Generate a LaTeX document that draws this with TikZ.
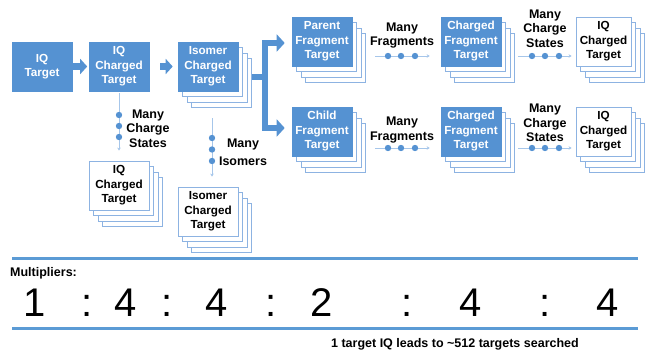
\documentclass[tikz,border=0pt]{standalone}
\usepackage{fontspec}
\setmainfont{Liberation Sans}
\usetikzlibrary{arrows.meta}
\definecolor{boxblue}{HTML}{5592D2}
\definecolor{layerblue}{HTML}{8DB3E2}
\definecolor{ruleblue}{HTML}{5B9BD5}
\definecolor{lineblue}{HTML}{A6C6EA}
\newcommand\stk[6]{% name, x, y, width, front style, text
  \foreach \k in {3,2,1}{\node[layer, minimum width=#4pt] (#1-\k) at ({#2+#4/2+4.5*\k},{#3+24.5+5.5*\k}) {};}
  \node[#5, minimum width=#4pt] (#1) at ({#2+#4/2},{#3+24.5}) {#6};}
\begin{document}
\begin{tikzpicture}[x=1pt,y=-1pt,
  box/.style={fill=boxblue, draw=boxblue, text=white, font=\bfseries\fontsize{11.7}{14.5}\selectfont, align=center, minimum height=49pt, inner sep=0pt, line width=0.6pt},
  wbox/.style={fill=white, draw=layerblue, text=black, font=\bfseries\fontsize{11.7}{14.5}\selectfont, align=center, minimum height=49pt, inner sep=0pt, line width=0.8pt},
  layer/.style={fill=white, draw=layerblue, minimum height=49pt, inner sep=0pt, line width=0.8pt},
  lbl/.style={font=\bfseries\fontsize{12.5}{14.5}\selectfont, align=center, inner sep=0pt},
  blockarrow/.style={draw=boxblue, line width=7pt, -{Triangle[width=15pt,length=7pt]}},
  branch/.style={draw=boxblue, line width=6pt, line join=miter, -{Triangle[width=17pt,length=8pt]}},
  dotline/.style={draw=lineblue, line width=0.9pt, -{Stealth[length=3pt,width=3.5pt]}},
  dotc/.style={fill=boxblue},
  rulel/.style={draw=ruleblue, line width=3pt},
  big/.style={font=\fontsize{40}{40}\selectfont, anchor=base, inner sep=0pt},
]
\useasboundingbox (0,0) rectangle (646,353);

% single boxes
\node[box, minimum width=60pt] (iqt) at (42,66.5) {IQ\\Target};
\node[box, minimum width=60pt] (ic) at (119,66.5) {IQ\\Charged\\Target};

% stacks
\stk{iso}{178}{42}{60}{box}{Isomer\\Charged\\Target}
\stk{icw}{89}{161}{60}{wbox}{IQ\\Charged\\Target}
\stk{isow}{178}{187}{60}{wbox}{Isomer\\Charged\\Target}
\stk{par}{292}{17}{60}{box}{Parent\\Fragment\\Target}
\stk{chi}{292}{107}{60}{box}{Child\\Fragment\\Target}
\stk{cft}{441}{17}{60}{box}{Charged\\Fragment\\Target}
\stk{cfb}{441}{107}{60}{box}{Charged\\Fragment\\Target}
\stk{iqa}{576}{17}{55}{wbox}{IQ\\Charged\\Target}
\stk{iqb}{576}{107}{55}{wbox}{IQ\\Charged\\Target}

% block arrows
\draw[blockarrow, shorten <=1pt, shorten >=1.5pt] (iqt.east) -- (ic.west);
\draw[blockarrow, shorten <=11pt, shorten >=5pt] (ic.east) -- (iso.west);

% branch
\coordinate (br) at (265,77);
\coordinate (bt) at (265,43);
\coordinate (bb) at (265,128);
\draw[draw=boxblue, line width=6pt] (iso-3.east |- br) -- (br);
\draw[branch, shorten >=7pt] (br) -- (bt) -- (par.west |- bt);
\draw[branch, shorten >=7pt] (br) -- (bb) -- (chi.west |- bb);

% vertical dotted connectors
\draw[dotline, shorten <=2pt, shorten >=10pt] (ic.south) -- (icw.north);
\foreach \yy in {115,126,137} \fill[dotc] (119,\yy) circle (3.2);
\node[lbl] (l1) at (148,128.5) {Many\\Charge\\States};

\draw[dotline, shorten <=27pt, shorten >=10pt] ([xshift=4pt]iso.south) -- ([xshift=4pt]isow.north);
\foreach \yy in {138,149.5,161} \fill[dotc] (212,\yy) circle (3.2);
\node[lbl, font=\bfseries\fontsize{12.5}{17.5}\selectfont] (l2) at (243,152.5) {Many\\Isomers};

% horizontal dotted connectors (top row)
\draw[dotline, shorten <=23pt, shorten >=11pt] ([yshift=-14.5pt]par.east) -- ([yshift=-14.5pt]cft.west);
\foreach \xx in {388,401,415} \fill[dotc] (\xx,56) circle (3.2);
\node[lbl] (l3) at (402,35.5) {Many\\Fragments};
\draw[dotline, shorten <=17pt, shorten >=4pt] ([yshift=-14.5pt]cft.east) -- ([yshift=-14.5pt]iqa.west);
\foreach \xx in {532,545,559} \fill[dotc] (\xx,56) circle (3.2);
\node[lbl] (l4) at (545,28.5) {Many\\Charge\\States};

% bottom row
\draw[dotline, shorten <=23pt, shorten >=11pt] ([yshift=-16.5pt]chi.east) -- ([yshift=-16.5pt]cfb.west);
\foreach \xx in {388,401,415} \fill[dotc] (\xx,148) circle (3.2);
\node[lbl] (l5) at (402,130) {Many\\Fragments};
\draw[dotline, shorten <=17pt, shorten >=4pt] ([yshift=-16.5pt]cfb.east) -- ([yshift=-16.5pt]iqb.west);
\foreach \xx in {532,545,559} \fill[dotc] (\xx,148) circle (3.2);
\node[lbl] (l6) at (545,123) {Many\\Charge\\States};

% multipliers
\draw[rulel] (12,258) -- (638,258);
\draw[rulel] (12,328) -- (638,328);
\node[lbl, anchor=west] (mul) at (10,273) {Multipliers:};
\node[big] (n1) at (35,316) {1};
\node[big] (c1) at (87,316) {:};
\node[big] (n2) at (126,316) {4};
\node[big] (c2) at (167,316) {:};
\node[big] (n3) at (217,316) {4};
\node[big] (c3) at (271,316) {:};
\node[big] (n4) at (322,316) {2};
\node[big] (c4) at (407,316) {:};
\node[big] (n5) at (471,316) {4};
\node[big] (c5) at (545,316) {:};
\node[big] (n6) at (608,316) {4};
\node[lbl, font=\bfseries\fontsize{12.5}{14}\selectfont] (sum) at (455,344) {1 target IQ leads to \textasciitilde512 targets searched};
\end{tikzpicture}
\end{document}
